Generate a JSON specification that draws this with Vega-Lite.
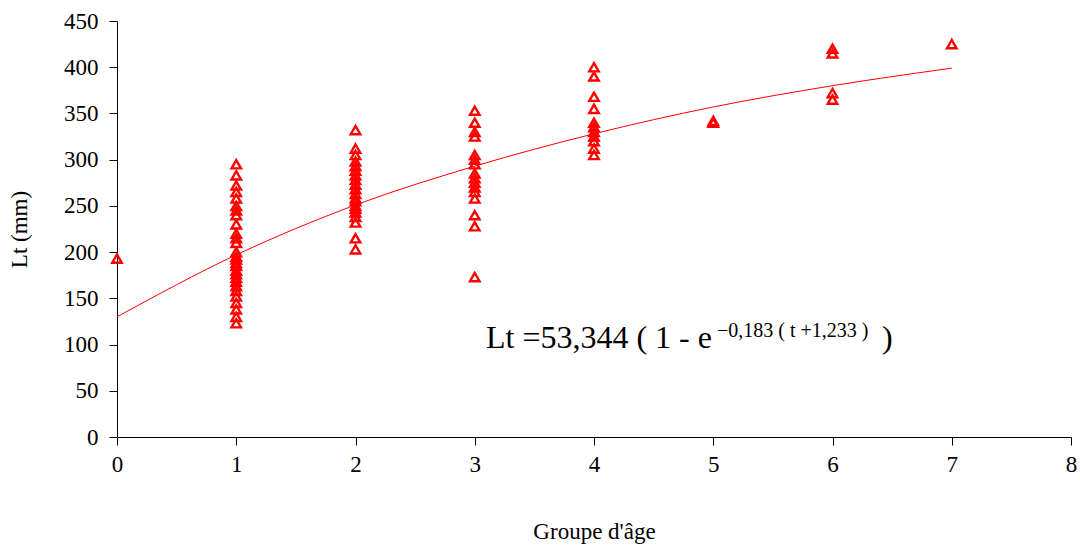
{
  "$schema": "https://vega.github.io/schema/vega-lite/v6.json",
  "width": 954,
  "height": 416,
  "autosize": "none",
  "padding": {"left": 117, "top": 21, "right": 9, "bottom": 111},
  "background": "white",
  "config": {
    "view": {"stroke": null},
    "font": "Liberation Serif",
    "axis": {
      "grid": false,
      "domainColor": "#000000",
      "domainWidth": 1,
      "tickColor": "#000000",
      "tickSize": 8,
      "labelFlush": false,
      "labelOverlap": false,
      "labelBound": false,
      "labelFont": "Liberation Serif",
      "labelFontSize": 23,
      "labelColor": "#000000",
      "titleFont": "Liberation Serif",
      "titleFontSize": 23,
      "titleFontWeight": "normal",
      "titleColor": "#000000"
    }
  },
  "datasets": {
    "obs": [
      {"age": 0, "lt": 193},
      {"age": 1, "lt": 295}, {"age": 1, "lt": 283}, {"age": 1, "lt": 272}, {"age": 1, "lt": 265},
      {"age": 1, "lt": 258}, {"age": 1, "lt": 250}, {"age": 1, "lt": 245}, {"age": 1, "lt": 240},
      {"age": 1, "lt": 230}, {"age": 1, "lt": 220}, {"age": 1, "lt": 215}, {"age": 1, "lt": 210},
      {"age": 1, "lt": 200}, {"age": 1, "lt": 195}, {"age": 1, "lt": 192}, {"age": 1, "lt": 188},
      {"age": 1, "lt": 185}, {"age": 1, "lt": 180}, {"age": 1, "lt": 176}, {"age": 1, "lt": 172},
      {"age": 1, "lt": 168}, {"age": 1, "lt": 163}, {"age": 1, "lt": 158}, {"age": 1, "lt": 152},
      {"age": 1, "lt": 145}, {"age": 1, "lt": 138}, {"age": 1, "lt": 130}, {"age": 1, "lt": 123},
      {"age": 2, "lt": 332}, {"age": 2, "lt": 312}, {"age": 2, "lt": 305}, {"age": 2, "lt": 298},
      {"age": 2, "lt": 293}, {"age": 2, "lt": 288}, {"age": 2, "lt": 283}, {"age": 2, "lt": 278},
      {"age": 2, "lt": 273}, {"age": 2, "lt": 268}, {"age": 2, "lt": 263}, {"age": 2, "lt": 258},
      {"age": 2, "lt": 255}, {"age": 2, "lt": 250}, {"age": 2, "lt": 247}, {"age": 2, "lt": 243},
      {"age": 2, "lt": 238}, {"age": 2, "lt": 232}, {"age": 2, "lt": 215}, {"age": 2, "lt": 203},
      {"age": 3, "lt": 353}, {"age": 3, "lt": 340}, {"age": 3, "lt": 330}, {"age": 3, "lt": 325},
      {"age": 3, "lt": 305}, {"age": 3, "lt": 300}, {"age": 3, "lt": 295}, {"age": 3, "lt": 285},
      {"age": 3, "lt": 280}, {"age": 3, "lt": 275}, {"age": 3, "lt": 270}, {"age": 3, "lt": 265},
      {"age": 3, "lt": 258}, {"age": 3, "lt": 240}, {"age": 3, "lt": 228}, {"age": 3, "lt": 173},
      {"age": 4, "lt": 400}, {"age": 4, "lt": 390}, {"age": 4, "lt": 368}, {"age": 4, "lt": 355},
      {"age": 4, "lt": 340}, {"age": 4, "lt": 335}, {"age": 4, "lt": 330}, {"age": 4, "lt": 325},
      {"age": 4, "lt": 320}, {"age": 4, "lt": 312}, {"age": 4, "lt": 305},
      {"age": 5, "lt": 342}, {"age": 5, "lt": 340},
      {"age": 6, "lt": 420}, {"age": 6, "lt": 415}, {"age": 6, "lt": 372}, {"age": 6, "lt": 365},
      {"age": 7, "lt": 425}
    ],
    "curve": [
      {"age": 0, "lt": 130}, {"age": 1, "lt": 197}, {"age": 2, "lt": 251}, {"age": 3, "lt": 293},
      {"age": 4, "lt": 328}, {"age": 5, "lt": 357}, {"age": 6, "lt": 380}, {"age": 7, "lt": 399}
    ]
  },
  "layer": [
    {
      "data": {"name": "curve"},
      "mark": {"type": "line", "color": "#ff0000", "strokeWidth": 1, "interpolate": "monotone"},
      "encoding": {
        "x": {"field": "age", "type": "quantitative", "scale": {"domain": [0, 8], "nice": false},
          "axis": {"values": [0,1,2,3,4,5,6,7,8], "format": "d", "title": "Groupe d'âge", "labelPadding": 8, "titlePadding": 44}},
        "y": {"field": "lt", "type": "quantitative", "scale": {"domain": [0, 450], "nice": false},
          "axis": {"values": [0,50,100,150,200,250,300,350,400,450], "format": "d", "title": "Lt (mm)", "labelPadding": 11, "titlePadding": 32}}
      }
    },
    {
      "data": {"name": "obs"},
      "mark": {"type": "point", "shape": "triangle-up", "filled": false, "color": "#ff0000", "strokeWidth": 2.4, "size": 90, "opacity": 1},
      "encoding": {
        "x": {"field": "age", "type": "quantitative"},
        "y": {"field": "lt", "type": "quantitative"}
      }
    },
    {
      "data": {"values": [{}]},
      "mark": {"type": "text", "align": "left", "baseline": "alphabetic", "font": "Liberation Serif", "fontSize": 32, "color": "#000000"},
      "encoding": {
        "x": {"datum": 3.094, "type": "quantitative"},
        "y": {"datum": 96, "type": "quantitative"},
        "text": {"value": "Lt =53,344 ( 1 - e"}
      }
    },
    {
      "data": {"values": [{}]},
      "mark": {"type": "text", "align": "left", "baseline": "alphabetic", "font": "Liberation Serif", "fontSize": 20, "color": "#000000"},
      "encoding": {
        "x": {"datum": 5.031, "type": "quantitative"},
        "y": {"datum": 108, "type": "quantitative"},
        "text": {"value": "−0,183 ( t +1,233 )"}
      }
    },
    {
      "data": {"values": [{}]},
      "mark": {"type": "text", "align": "left", "baseline": "alphabetic", "font": "Liberation Serif", "fontSize": 32, "color": "#000000"},
      "encoding": {
        "x": {"datum": 6.415, "type": "quantitative"},
        "y": {"datum": 96, "type": "quantitative"},
        "text": {"value": ")"}
      }
    }
  ]
}
